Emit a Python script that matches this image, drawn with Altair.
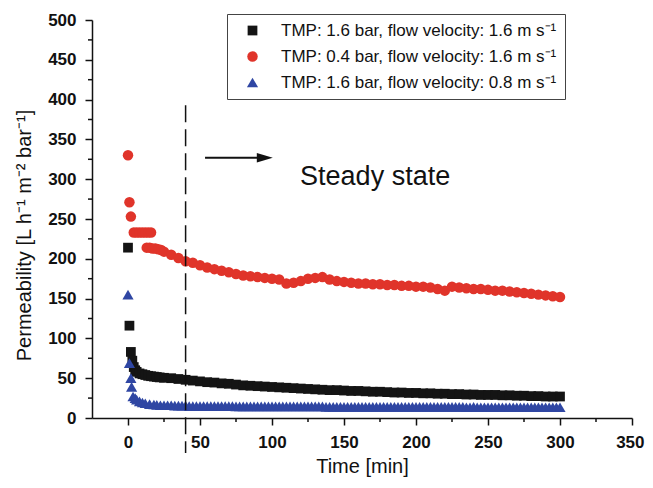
import altair as alt
import pandas as pd

FONT = "Liberation Sans"

# ---- data ----
T_STEADY = [30, 35, 40, 45, 50, 55, 60, 65, 70, 75,
            80, 85, 90, 95, 100, 105, 110, 115, 120, 125,
            130, 135, 140, 145, 150, 155, 160, 165, 170, 175,
            180, 185, 190, 195, 200, 205, 210, 215, 220, 225,
            230, 235, 240, 245, 250, 255, 260, 265, 270, 275,
            280, 285, 290, 295, 300]

T_DENSE = [27.5, 30, 32.5, 35, 37.5, 40, 42.5, 45, 47.5, 50,
           52.5, 55, 57.5, 60, 62.5, 65, 67.5, 70, 72.5, 75,
           77.5, 80, 82.5, 85, 87.5, 90, 92.5, 95, 97.5, 100,
           102.5, 105, 107.5, 110, 112.5, 115, 117.5, 120, 122.5, 125,
           127.5, 130, 132.5, 135, 137.5, 140, 142.5, 145, 147.5, 150,
           152.5, 155, 157.5, 160, 162.5, 165, 167.5, 170, 172.5, 175,
           177.5, 180, 182.5, 185, 187.5, 190, 192.5, 195, 197.5, 200,
           202.5, 205, 207.5, 210, 212.5, 215, 217.5, 220, 222.5, 225,
           227.5, 230, 232.5, 235, 237.5, 240, 242.5, 245, 247.5, 250,
           252.5, 255, 257.5, 260, 262.5, 265, 267.5, 270, 272.5, 275,
           277.5, 280, 282.5, 285, 287.5, 290, 292.5, 295, 297.5, 300]

# TMP 1.6 bar, 1.6 m/s (black squares)
t_a_early = [0, 1, 2, 3, 4, 5, 6, 8, 10, 12, 14, 16, 18, 20, 22, 25]
v_a_early = [214, 116, 83, 72, 64, 60, 58, 56, 55, 54, 53, 52.5, 52, 51.5, 51, 50.5]
v_a_steady = [50, 49, 48, 47, 46, 45, 44.5, 43.5, 43, 42,
              41, 40.5, 40, 39.5, 39, 38.5, 38, 37.5, 37, 36.5,
              36, 35.5, 35, 35, 34.5, 34, 34, 33.5, 33, 33,
              32.5, 32, 32, 31.5, 31.5, 31, 31, 30.5, 30.5, 30,
              30, 29.5, 29.5, 29, 29, 29, 28.5, 28.5, 28, 28,
              27.5, 27.5, 27, 27, 27]

# TMP 0.4 bar, 1.6 m/s (red circles)
t_b_early = [0, 1, 2, 4, 6, 8, 10, 12, 14, 16, 13, 15, 17, 19, 21, 23, 25]
v_b_early = [330, 271, 253, 233, 233, 233, 233, 233, 233, 233, 214, 214, 213, 213, 212, 211, 209]
v_b_steady = [205, 201, 197, 195, 192, 189, 187, 185, 183, 181,
              179, 178, 177, 176, 175, 174, 169, 170, 172, 175,
              176, 177, 174, 172, 171, 170, 169, 169, 168, 168,
              167, 167, 166, 166, 165, 165, 164, 162, 160, 165,
              164, 163, 162, 162, 161, 160, 160, 159, 158, 157,
              156, 155, 154, 153, 152]

# TMP 1.6 bar, 0.8 m/s (blue triangles)
t_c_early = [0, 1, 2, 2.5, 3.5, 5, 6, 8, 10, 12, 15, 18, 20, 22.5, 25]
v_c_early = [155, 69, 50, 39, 27, 25, 23, 21, 19.5, 18.5, 17.5, 17, 16.5, 16, 16]
v_c_steady = [16, 16, 15.5, 15.5, 15.5, 15.5, 15, 15, 15, 15,
              15, 15, 15, 15, 15, 15, 15, 15, 15, 14.5,
              14.5, 14.5, 14.5, 14.5, 14.5, 14.5, 14.5, 14.5, 14.5, 14.5,
              14.5, 14.5, 14.5, 14.5, 14.5, 14.5, 14.5, 14.5, 14.5, 14.5,
              14.5, 14.5, 14.5, 14.5, 14, 14, 14, 14, 14, 14,
              14, 14, 14, 14, 14, 14, 14, 14, 14, 14,
              14, 14, 14, 14, 14, 14, 14, 14, 14, 14,
              14, 14, 14, 14, 14, 14, 14, 14, 14, 14,
              14, 14, 14, 13.5, 13.5, 14, 13.5, 13.5, 13.5, 13.5,
              13.5, 13.5, 13.5, 13.5, 13.5, 13.5, 13.5, 13.5, 13.5, 13.5,
              13.5, 13.5, 13.5, 13.5, 13.5, 13.5, 13.5, 13.5, 13.5, 13.5]

SERIES = ["TMP: 1.6 bar, flow velocity: 1.6 m s\u207b\u00b9",
          "TMP: 0.4 bar, flow velocity: 1.6 m s\u207b\u00b9",
          "TMP: 1.6 bar, flow velocity: 0.8 m s\u207b\u00b9"]
COLORS = ["#141414", "#e0342a", "#2f46a3"]
SHAPES = ["square", "circle", "triangle-up"]
SIZES = [95, 125, 130]

X_TICKS = [0, 50, 100, 150, 200, 250, 300, 350]
X_MINOR = [25, 75, 125, 175, 225, 275, 325]
Y_TICKS = [0, 50, 100, 150, 200, 250, 300, 350, 400, 450, 500]
Y_MINOR = [25, 75, 125, 175, 225, 275, 325, 375, 425, 475]

rows = []
for i, (te, ve, ts, vs) in enumerate([(t_a_early, v_a_early, T_STEADY, v_a_steady),
                                      (t_b_early, v_b_early, T_STEADY, v_b_steady),
                                      (t_c_early, v_c_early, T_DENSE, v_c_steady)]):
    for t, v in zip(te + ts, ve + vs):
        rows.append({"t": t, "v": v, "series": SERIES[i], "order": i})
df = pd.DataFrame(rows)

xscale = alt.Scale(domain=[-25, 350], nice=False, zero=False)
yscale = alt.Scale(domain=[0, 500], nice=False, zero=False)

XAX = alt.Axis(values=X_TICKS, title="Time [min]", grid=False,
               labelFont=FONT, labelFontSize=17, labelFontWeight="bold",
               labelColor="#111", labelPadding=9, labelFlush=True, labelFlushOffset=12,
               labelOverlap=False,
               titleFont=FONT, titleFontSize=20, titleFontWeight="normal",
               titleColor="#111", titlePadding=6,
               tickSize=7, tickWidth=1.5, tickColor="#111",
               domainColor="#111", domainWidth=1.5)
YAX = alt.Axis(values=Y_TICKS, title="Permeability [L h\u207b\u00b9 m\u207b\u00b2 bar\u207b\u00b9]",
               grid=False, labelOverlap=False, labelFlush=False,
               labelFont=FONT, labelFontSize=17, labelFontWeight="bold",
               labelColor="#111", labelPadding=9,
               titleFont=FONT, titleFontSize=20, titleFontWeight="normal",
               titleColor="#111", titlePadding=13, titleY=215,
               tickSize=7, tickWidth=1.5, tickColor="#111",
               domainColor="#111", domainWidth=1.5)


def X(f):
    return alt.X(f, scale=xscale, axis=XAX)


def Y(f):
    return alt.Y(f, scale=yscale, axis=YAX)


points = alt.Chart(df).mark_point(filled=True, opacity=1, strokeWidth=0).encode(
    x=X("t:Q"),
    y=Y("v:Q"),
    color=alt.Color("series:N", scale=alt.Scale(domain=SERIES, range=COLORS),
                    legend=alt.Legend(title=None, orient="none", legendX=135, legendY=-6,
                                      padding=8, rowPadding=8, symbolOffset=9,
                                      labelOffset=20, labelFont=FONT, labelFontSize=17,
                                      labelColor="#111", labelLimit=500,
                                      strokeColor="#444", fillColor="white",
                                      symbolStrokeWidth=0)),
    shape=alt.Shape("series:N", scale=alt.Scale(domain=SERIES, range=SHAPES)),
    size=alt.Size("series:N", scale=alt.Scale(domain=SERIES, range=SIZES)),
    order=alt.Order("order:Q"),
)

xminor = alt.Chart(pd.DataFrame({"t": X_MINOR})).mark_rule(color="#111", strokeWidth=1.5).encode(
    x=X("t:Q"), y=alt.value(398), y2=alt.value(402))
yminor = alt.Chart(pd.DataFrame({"v": Y_MINOR})).mark_rule(color="#111", strokeWidth=1.5).encode(
    y=Y("v:Q"), x=alt.value(0), x2=alt.value(-4))

dashed = alt.Chart(pd.DataFrame({"t": [40], "v": [393], "v2": [-44]})).mark_rule(
    color="#111", strokeWidth=1.5, strokeDash=[17, 7]).encode(
    x=X("t:Q"), y=Y("v:Q"), y2="v2:Q")

arrow_line = alt.Chart(pd.DataFrame({"t": [53.5], "t2": [95], "v": [327]})).mark_rule(
    color="#111", strokeWidth=2).encode(x=X("t:Q"), x2="t2:Q", y=Y("v:Q"))
arrow_head = alt.Chart(pd.DataFrame({"t": [95], "v": [327]})).mark_point(
    shape="M-1,-0.6L1,0L-1,0.6Z", filled=True, size=256, color="#111", opacity=1,
    strokeWidth=0).encode(x=X("t:Q"), y=Y("v:Q"))

label = alt.Chart(pd.DataFrame({"t": [119.5], "v": [303], "txt": ["Steady state"]})).mark_text(
    align="left", baseline="middle", font=FONT, fontSize=27, color="#111").encode(
    x=X("t:Q"), y=Y("v:Q"), text="txt:N")

chart = alt.layer(points, xminor, yminor, dashed, arrow_line, arrow_head, label).properties(
    width=540, height=398,
    autosize=alt.AutoSizeParams(type="none"),
    padding={"left": 84, "top": 12, "right": 13, "bottom": 62},
).configure_view(stroke=None)

chart.save("out.html", embed_options={"renderer": "svg", "actions": False})
